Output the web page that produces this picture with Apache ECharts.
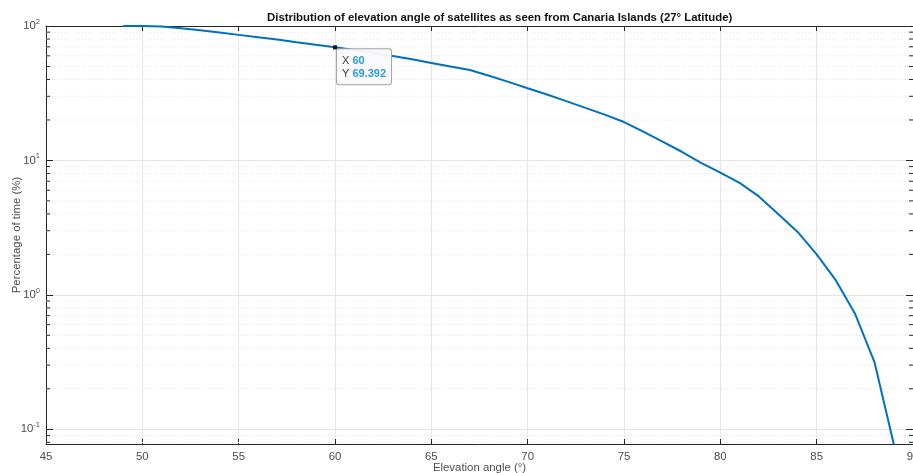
<!DOCTYPE html>
<html>
<head>
<meta charset="utf-8">
<script src="https://cdn.jsdelivr.net/npm/echarts@6/dist/echarts.min.js"></script>
<style>
html, body { margin: 0; padding: 0; background: #fff; }
#chart { width: 913px; height: 473px; }
</style>
</head>
<body>
<div id="chart"></div>
<script>
// elevation angle (deg) and percentage of time (%)
const elevation = [49, 50, 51, 52, 53, 54, 55, 56, 57, 58, 59, 60, 61, 62, 63, 64, 65, 66, 67, 68, 69,
    70, 71, 72, 73, 74, 75, 76, 77, 78, 79, 80, 81, 82, 83, 84, 85, 86, 87, 88, 89]
const percentTime = [100, 100, 99.3, 96.2, 92.8, 89.3, 85.9, 82.6, 79.2, 75.8, 72.6, 69.392, 66.2, 62.9, 59.8, 56.5, 53.1, 49.9, 47.0, 42.6, 38.4,
    34.4, 30.9, 27.6, 24.6, 21.9, 19.3, 16.4, 13.8, 11.6, 9.6, 8.1, 6.8, 5.4, 4.0, 2.95, 2.0, 1.28, 0.72, 0.316, 0.0777]
const xTicks = [45, 50, 55, 60, 65, 70, 75, 80, 85, 90]
const yDecades = [0.1, 1, 10, 100]
const dataTip = [60, 69.392]

const xMin = xTicks[0], xMax = xTicks[xTicks.length - 1], yMin = 0.0777, yMax = 100
const axisColor = '#262626'
const labelColor = '#4d4d4d'

// minor log grid values (2..9 per decade)
const minorVals = []
yDecades.concat([0.01]).forEach(d => {
    for (let k = 2; k <= 9; k++) {
        const v = +(d * k).toPrecision(3)
        if (v > yMin && v < yMax) minorVals.push(v)
    }
})

const chart = echarts.init(document.getElementById('chart'))

const supLabel = v => {
    const e = Math.log10(v)
    if (Math.abs(e - Math.round(e)) > 1e-6) return ''
    return '{b|10}{s|' + Math.round(e) + '}'
}

const option = {
    animation: false,
    textStyle: { fontFamily: 'Liberation Sans, Arial, sans-serif' },
    title: {
        text: 'Distribution of elevation angle of satellites as seen from Canaria Islands (27° Latitude)',
        left: 262,
        top: 7,
        textStyle: { fontSize: 11.4, fontWeight: 'bold', color: '#111' }
    },
    grid: { left: 46, top: 26, right: 0, bottom: 29, containLabel: false, outerBoundsMode: 'none' },
    xAxis: [
        {
            type: 'value',
            min: xMin, max: xMax, interval: 5,
            name: 'Elevation angle (°)',
            nameLocation: 'middle',
            nameGap: 18,
            nameMoveOverlap: false,
            nameTextStyle: { fontSize: 11.4, color: labelColor },
            axisLine: { lineStyle: { color: axisColor } },
            axisTick: { inside: true, length: 5, lineStyle: { color: axisColor } },
            axisLabel: { fontSize: 11.4, color: labelColor, margin: 7 },
            splitLine: { show: true, lineStyle: { color: '#e6e6e6' } }
        },
        {
            type: 'value',
            position: 'top',
            min: xMin, max: xMax, interval: 5,
            axisLine: { lineStyle: { color: axisColor } },
            axisTick: { inside: true, length: 5, lineStyle: { color: axisColor } },
            axisLabel: { show: false },
            splitLine: { show: false }
        }
    ],
    yAxis: [
        {
            type: 'log',
            min: yMin, max: yMax,
            name: 'Percentage of time (%)',
            nameLocation: 'middle',
            nameGap: 24,
            nameMoveOverlap: false,
            nameTextStyle: { fontSize: 11.4, color: labelColor },
            axisLine: { show: true, lineStyle: { color: axisColor } },
            axisTick: { inside: true, length: 7, lineStyle: { color: axisColor } },
            axisLabel: {
                margin: 6,
                formatter: supLabel,
                rich: {
                    b: { fontSize: 11.4, color: labelColor },
                    s: { fontSize: 7.5, color: labelColor, padding: [0, 0, 8, 0] }
                }
            },
            splitLine: { show: true, lineStyle: { color: '#e3e3e3' } }
        },
        {
            type: 'log',
            min: yMin, max: yMax,
            position: 'right',
            axisLine: { show: true, lineStyle: { color: axisColor } },
            axisTick: { inside: true, length: 7, lineStyle: { color: axisColor } },
            axisLabel: { show: false },
            splitLine: { show: false }
        }
    ],
    series: [
        {
            // minor grid lines and minor ticks
            type: 'custom',
            z: 1,
            silent: true,
            data: minorVals.map(v => [xMin, v]),
            renderItem: (params, api) => {
                const v = api.value(1)
                const l = api.coord([xMin, v])
                const r = api.coord([xMax, v])
                return {
                    type: 'group',
                    children: [
                        { type: 'line', shape: { x1: l[0], y1: l[1], x2: r[0], y2: r[1] }, style: { stroke: '#e2e2e2', lineWidth: 1, lineDash: [1, 2] } },
                        { type: 'line', shape: { x1: l[0], y1: l[1], x2: l[0] + 4, y2: l[1] }, style: { stroke: axisColor, lineWidth: 1 } },
                        { type: 'line', shape: { x1: r[0] - 4, y1: r[1], x2: r[0], y2: r[1] }, style: { stroke: axisColor, lineWidth: 1 } }
                    ]
                }
            }
        },
        {
            name: 'Percentage of time',
            type: 'line',
            z: 3,
            data: elevation.map((x, i) => [x, percentTime[i]]),
            showSymbol: false,
            lineStyle: { color: '#0072BD', width: 2 },
            markPoint: {
                symbol: 'rect',
                symbolSize: 4,
                itemStyle: { color: '#111' },
                data: [{
                    coord: dataTip,
                    label: {
                        show: true,
                        position: [4, 4],
                        formatter: '{k|X }{v|' + dataTip[0] + '}\n{k|Y }{v|' + dataTip[1] + '}',
                        backgroundColor: 'rgba(250,250,252,0.95)',
                        borderColor: '#a6a6a6',
                        borderWidth: 1,
                        borderRadius: 2,
                        padding: [5, 5, 4, 5],
                        rich: {
                            k: { fontSize: 11, color: '#404040', lineHeight: 13 },
                            v: { fontSize: 11, color: '#2a9be0', fontWeight: 'bold', lineHeight: 13 }
                        }
                    }
                }]
            }
        }
    ]
}
chart.setOption(option)
</script>
</body>
</html>
